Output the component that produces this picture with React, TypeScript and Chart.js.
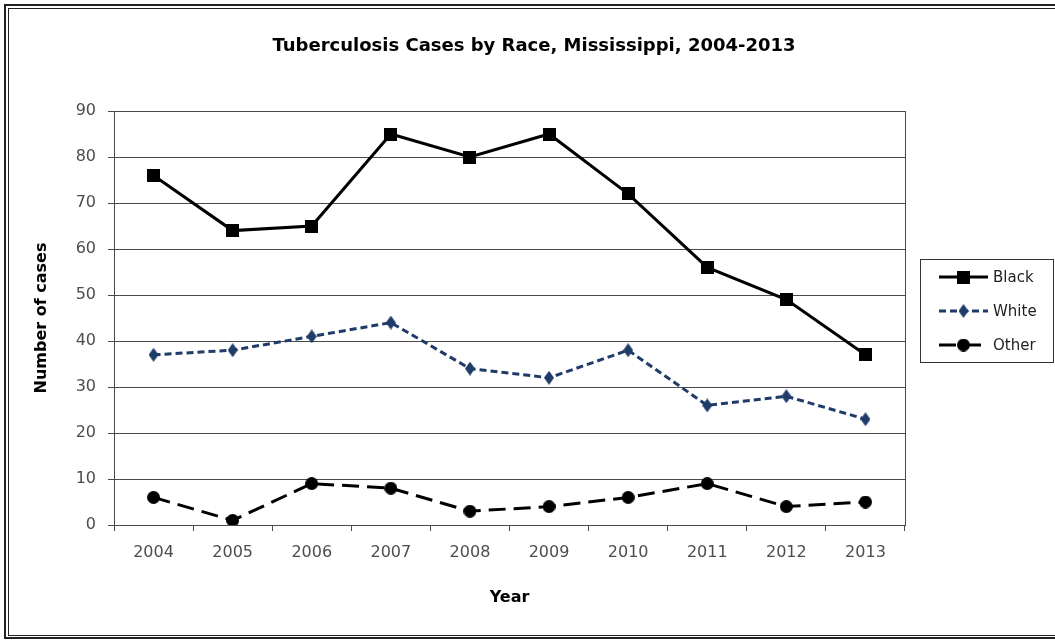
import React, { useEffect, useRef } from 'react';
import { Chart, registerables } from 'chart.js';

Chart.register(...registerables);

const years = ['2004', '2005', '2006', '2007', '2008', '2009', '2010', '2011', '2012', '2013'];
const blackCases = [76, 64, 65, 85, 80, 85, 72, 56, 49, 37];
const whiteCases = [37, 38, 41, 44, 34, 32, 38, 26, 28, 23];
const otherCases = [6, 1, 9, 8, 3, 4, 6, 9, 4, 5];
const seriesNames = ['Black', 'White', 'Other'];
const chartTitle = 'Tuberculosis Cases by Race, Mississippi, 2004-2013';

const W = 1055;
const H = 641;
const FONT = '"DejaVu Sans", sans-serif';
const NAVY = '#1F3B68';
const GRID = '#4a4a4a';
const TICK_TEXT = '#4d4d4d';

function makeSquare(size: number, color: string) {
  const c = document.createElement('canvas');
  c.width = size; c.height = size;
  const g = c.getContext('2d')!;
  g.fillStyle = color;
  g.fillRect(0, 0, size, size);
  return c;
}
function makeDiamond(w: number, h: number, color: string) {
  const c = document.createElement('canvas');
  c.width = w; c.height = h;
  const g = c.getContext('2d')!;
  g.fillStyle = color;
  g.beginPath();
  g.moveTo(w / 2, 0); g.lineTo(w, h / 2); g.lineTo(w / 2, h); g.lineTo(0, h / 2);
  g.closePath(); g.fill();
  return c;
}
function makeEllipse(w: number, h: number, color: string) {
  const c = document.createElement('canvas');
  c.width = w; c.height = h;
  const g = c.getContext('2d')!;
  g.fillStyle = color;
  g.beginPath();
  g.ellipse(w / 2, h / 2, w / 2, h / 2, 0, 0, Math.PI * 2);
  g.fill();
  return c;
}

export default function App() {
  const ref = useRef<HTMLCanvasElement | null>(null);

  useEffect(() => {
    if (!ref.current) return;
    const sq = makeSquare(13, '#000');
    const dia = makeDiamond(10, 14, NAVY);
    const dot = makeEllipse(13, 13, '#000');
    const styles = [
      { color: '#000', dash: [] as number[], img: sq },
      { color: NAVY, dash: [7, 4], img: dia },
      { color: '#000', dash: [17, 8], img: dot },
    ];

    const framePlugin = {
      id: 'frame',
      beforeDraw(chart: any) {
        const g = chart.ctx;
        g.save();
        g.fillStyle = '#fff';
        g.fillRect(0, 0, W, H);
        g.strokeStyle = '#222';
        g.lineWidth = 2;
        g.strokeRect(5, 5, W + 10, 633);
        g.lineWidth = 1;
        g.strokeRect(8.5, 8.5, W + 10, 627);
        g.restore();
      },
      beforeDatasetsDraw(chart: any) {
        const { ctx: g, chartArea: a } = chart;
        g.save();
        g.strokeStyle = GRID;
        g.lineWidth = 1;
        g.beginPath();
        g.moveTo(Math.round(a.right) + 0.5, a.top);
        g.lineTo(Math.round(a.right) + 0.5, a.bottom);
        g.stroke();
        g.restore();
      },
      afterDraw(chart: any) {
        const g = chart.ctx;
        g.save();
        // title
        g.fillStyle = '#000';
        g.font = `bold 18px ${FONT}`;
        g.textAlign = 'center';
        g.textBaseline = 'middle';
        g.fillText(chartTitle, 534, 46);
        // legend
        g.strokeStyle = '#333';
        g.lineWidth = 1;
        g.strokeRect(920.5, 259.5, 133, 103);
        const rows = [277, 311, 345];
        g.font = `15px ${FONT}`;
        g.textBaseline = 'middle';
        g.textAlign = 'left';
        rows.forEach((y, i) => {
          const s = styles[i];
          g.strokeStyle = s.color;
          g.lineWidth = 3;
          g.setLineDash(s.dash);
          g.beginPath();
          g.moveTo(939, y);
          g.lineTo(988, y);
          g.stroke();
          g.setLineDash([]);
          g.drawImage(s.img, 963.5 - s.img.width / 2, y - s.img.height / 2);
          g.fillStyle = '#222';
          g.fillText(seriesNames[i], 993, y + 1);
        });
        g.restore();
      },
    };

    const data = [blackCases, whiteCases, otherCases];
    const chart = new Chart(ref.current, {
      type: 'line',
      data: {
        labels: years,
        datasets: data.map((d, i) => ({
          label: seriesNames[i],
          data: d,
          borderColor: styles[i].color,
          backgroundColor: styles[i].color,
          borderWidth: 3,
          borderDash: styles[i].dash,
          pointStyle: styles[i].img as any,
          pointRadius: 7,
          tension: 0,
          fill: false,
        })),
      },
      options: {
        responsive: false,
        animation: false,
        layout: { padding: { left: 10, right: 150, top: 111, bottom: 10 } },
        plugins: {
          legend: { display: false },
          tooltip: { enabled: false },
          title: { display: false },
        },
        scales: {
          x: {
            type: 'category',
            offset: true,
            grid: {
              offset: true,
              drawOnChartArea: false,
              color: GRID,
              tickColor: GRID,
              tickLength: 6,
            },
            border: { display: true, color: GRID },
            ticks: {
              color: TICK_TEXT,
              font: { family: FONT, size: 16 },
              padding: 12,
              maxRotation: 0,
            },
            title: {
              display: true,
              text: 'Year',
              color: '#000',
              font: { family: FONT, size: 16, weight: 'bold' },
              padding: { top: 0, bottom: 24 },
            },
            afterFit(scale: any) { scale.height = 106; },
          },
          y: {
            min: 0,
            max: 90,
            grid: { color: GRID, tickColor: GRID, tickLength: 6 },
            border: { display: true, color: GRID },
            ticks: {
              stepSize: 10,
              color: TICK_TEXT,
              font: { family: FONT, size: 16 },
              padding: 12,
            },
            title: {
              display: true,
              text: 'Number of cases',
              color: '#000',
              font: { family: FONT, size: 16, weight: 'bold' },
              padding: { top: 22, bottom: 0 },
            },
            afterFit(scale: any) { scale.width = 104; },
          },
        },
      },
      plugins: [framePlugin],
    });
    return () => chart.destroy();
  }, []);

  return (
    <div style={{ position: 'fixed', left: 0, top: 0, width: W, height: H }}>
      <canvas ref={ref} width={W} height={H} style={{ display: 'block' }} />
    </div>
  );
}
